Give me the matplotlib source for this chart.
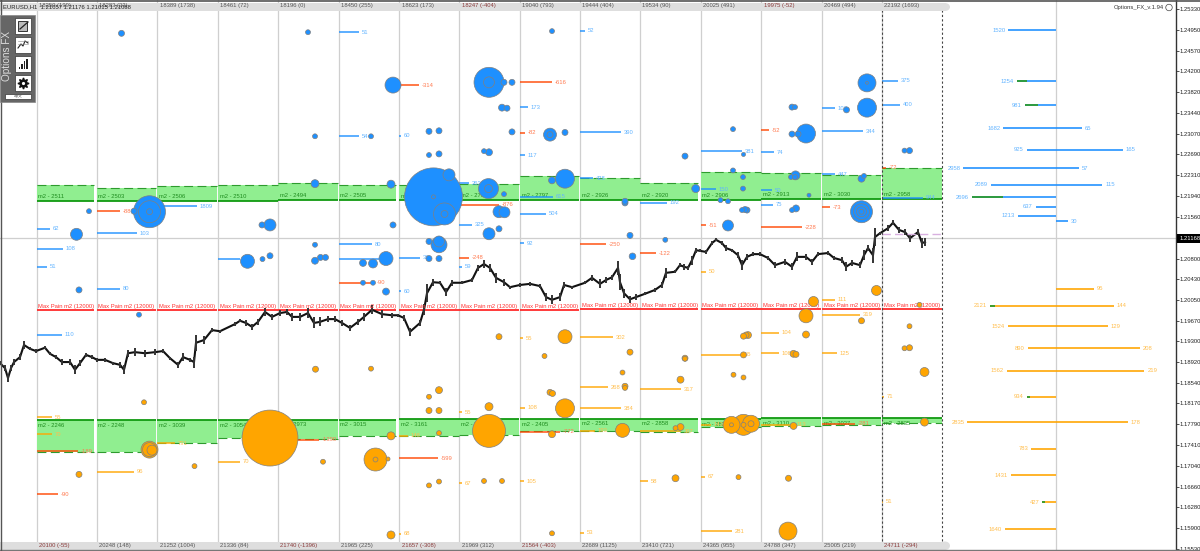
import numpy as np
import matplotlib
matplotlib.use("Agg")
import matplotlib.pyplot as plt
from matplotlib.patches import Rectangle, Ellipse

plt.rcParams['font.family'] = ['Liberation Sans', 'DejaVu Sans']

# ---- data: prices are in ten-thousandths (12495 = 1.2495) ----
col_start = [36.5, 96.5, 157, 217.5, 278, 338.5, 399, 459, 519.5, 580, 640, 700.5, 761, 821.5, 881.5]
col_end = [94, 156, 217, 278, 338, 396, 459, 519, 579, 640, 698, 761, 821, 881, 942]

top_labels = ['18250 (199)', '18283 (33)', '18389 (1738)', '18461 (72)', '18196 (0)', '18450 (255)', '18623 (173)',
              '18247 (-404)', '19040 (793)', '19444 (404)', '19534 (90)', '20025 (491)', '19975 (-52)',
              '20469 (494)', '22192 (1693)']
bottom_labels = ['20100 (-55)', '20248 (148)', '21252 (1004)', '21336 (84)', '21740 (-1396)', '21965 (225)',
                 '21657 (-308)', '21969 (312)', '21564 (-403)', '22689 (1125)', '23410 (721)', '24365 (955)',
                 '24788 (347)', '25005 (219)', '24711 (-294)']

upper_top = [12213, 12208, 12211, 12214, 12217, 12214, 12214, 12216, 12229, 12226, 12218, 12238, 12235, 12232, 12244]
upper_bot = [12184.5, 12184.5, 12184.5, 12184.5, 12186.3, 12186.3, 12185.4, 12186.3, 12186.3, 12186.3, 12186.3,
             12187.2, 12188.1, 12188.1, 12189]
upper_m2 = [2511, 2503, 2506, 2510, 2494, 2505, 2732, 2704, 2797, 2926, 2920, 2906, 2913, 3030, 2958]
lower_top = [11786, 11786, 11786, 11786, 11787, 11787, 11788, 11788, 11788, 11789, 11789, 11788, 11790, 11790, 11790]
lower_bot = [11729, 11728, 11745, 11754, 11752, 11757, 11758, 11759, 11767, 11767, 11765, 11774, 11776, 11778, 11782]
lower_m2 = [2246, 2248, 3039, 3054, 2973, 3015, 3161, 2788, 2405, 2561, 2858, 2820, 3110, 3027, 2835]
max_pain = [11986, 11986, 11986, 11986, 11987, 11987, 11987, 11987, 11987, 11988, 11988, 11989, 11989, 11989, 11989]

blue_col = [0, 0, 0, 0, 1, 1, 2, 3, 5, 5, 5, 5, 6, 6, 6, 7, 7, 7, 8, 8, 8, 8, 8, 9, 9, 9, 10, 11, 11, 12, 12, 12,
            13, 13, 13, 14, 14, 14]
blue_price = [12134, 12098, 12065, 11942, 12126, 12025, 12175, 12079, 12491, 12302, 12106, 12080, 12303, 12081, 12021,
              12217, 12141, 12065, 12355, 12268, 12192, 12161, 12108, 12494, 12309, 12226, 12181, 12275, 12206,
              12273, 12204, 12178, 12353, 12311, 12233, 12403, 12359, 12190]
blue_value = [62, 108, 51, 110, 103, 80, 1809, 78, 51, 54, 80, 146, 60, 38, 60, 263, 325, 59, 173, 117, 615, 504, 92,
              52, 390, 428, 192, 381, 150, 74, 50, 75, 107, 344, 447, 375, 400, 944]
blue_len = [13, 26, 10, 25, 40, 23, 40, 22, 20, 20, 33, 40, 2, 21, 2, 10, 13, 3, 8, 5, 33, 26, 4, 5, 41, 13, 27, 41,
            15, 13, 11, 12, 13, 41, 13, 16, 18, 41]

red_col = [1, 5, 6, 7, 7, 8, 8, 9, 10, 11, 12, 12, 13, 14, 0, 0, 4, 6, 8, 13]
red_price = [12166, 12036, 12395, 12178, 12081, 12400, 12308, 12106, 12090, 12140, 12313, 12137, 12173, 12245, 11730,
             11652, 11751, 11717, 11765, 11780]
red_value = [-88, -90, -314, -876, -248, -616, -82, -250, -122, -51, -52, -228, -73, -72, -189, -90, -1390, -599,
             -772, -281]
red_len = [23, 35, 20, 40, 10, 32, 5, 26, 16, 5, 8, 41, 8, 4, 41, 21, 41, 39, 40, 33]

orange_col = [0, 0, 1, 2, 3, 6, 6, 7, 7, 8, 8, 8, 9, 9, 9, 9, 9, 10, 10, 10, 11, 11, 11, 11, 11, 12, 12, 12, 13, 13,
              13, 14, 14]
orange_price = [11792, 11761, 11693, 11745, 11711, 11758, 11580, 11801, 11672, 11935, 11809, 11676, 11937, 11846, 11808,
                11767, 11582, 11843, 11766, 11676, 11905, 11778, 11684, 11585, 12056, 11945, 11908, 11778, 12005,
                11978, 11908, 11829, 11638]
orange_value = [55, 70, 96, 791, 70, 146, 68, 55, 67, 55, 108, 105, 302, 268, 384, 193, 53, 317, 397, 58, 55, 143,
                67, 281, 50, 104, 108, 113, 111, 319, 125, 71, 51]
orange_len = [15, 15, 37, 18, 22, 9, 2, 3, 3, 3, 5, 4, 33, 28, 41, 15, 4, 41, 41, 8, 41, 10, 4, 31, 5, 18, 18, 33, 13,
              38, 15, 2, 1]

blue_bx = [121.5, 308, 315, 371, 315, 391, 89, 76.5, 149.5, 149.5, 149.5, 134, 270, 262, 393, 393, 315, 247.5, 262.5, 270,
           315, 320.5, 325.5, 386, 373, 363, 79, 139, 386, 363, 373, 489, 489, 504, 512, 502, 507, 429, 439, 512, 429,
           439, 484, 489, 449, 433.5, 433.5, 444.5, 444.5, 488.5, 488.5, 504, 499, 504.5, 489, 499, 439, 439, 429, 429, 439,
           552, 550, 550, 565, 552, 565, 625, 625, 630, 632.5, 665.3, 685, 695.7, 733, 743.5, 733, 743, 743, 720.5, 728,
           745, 747, 742, 728, 792, 795, 792, 798, 806, 795, 791, 795.5, 792, 796, 809, 846.5, 867, 867, 867,
           861.5, 864, 861.5, 861.5, 861.5, 861.5, 904.5, 909.5]
blue_by = [12489, 12491, 12302, 12302, 12216, 12215, 12166, 12124, 12165, 12165, 12165, 12166, 12141, 12141, 12395, 12141,
           12105, 12075, 12079, 12085, 12076, 12082, 12082, 12080, 12071, 12072, 12023, 11978, 12020, 12036, 12036,
           12400, 12400, 12400, 12400, 12354, 12353, 12311, 12312, 12310, 12268, 12270, 12275, 12273, 12232, 12192,
           12192, 12161, 12161, 12207, 12207, 12197, 12165, 12164, 12125, 12134, 12111, 12105, 12111, 12080, 12080,
           12493, 12305, 12305, 12309, 12222, 12225, 12184, 12181, 12122, 12084, 12114, 12266, 12207, 12315, 12269,
           12240, 12228, 12207, 12186, 12184, 12169, 12168, 12168, 12140, 12355, 12355, 12306, 12306, 12307, 12228,
           12228, 12231, 12168, 12171, 12195, 12350, 12399, 12399, 12354, 12225, 12230, 12165, 12165, 12165, 12165,
           12276, 12276]
blue_vol = [9, 6, 6, 6, 16, 16, 6, 36, 256, 121, 9, 9, 36, 9, 64, 9, 6, 49, 6, 9, 12, 9, 9, 49, 20, 12, 9, 6, 12, 6, 6,
            225, 30, 9, 9, 12, 9, 9, 9, 9, 6, 9, 6, 12, 36, 841, 4, 121, 12, 100, 16, 6, 36, 30, 36, 9, 30, 64, 9, 9, 9,
            6, 42, 9, 9, 12, 90, 9, 9, 9, 11, 6, 9, 16, 6, 4, 6, 6, 6, 6, 6, 9, 9, 6, 30, 9, 6, 9, 9, 90, 6, 6, 20, 6,
            12, 4, 9, 81, 2, 90, 12, 6, 121, 64, 25, 6, 6, 9]

orange_bx = [144, 315.5, 371, 79, 149.5, 149.5, 152, 194.5, 270, 323, 375.5, 375.5, 388, 391, 391, 439, 429, 429, 439, 439, 429,
             439, 499, 489, 489, 484, 502, 565, 544.5, 550, 552.5, 565, 552, 552, 630, 622.5, 625, 625, 622.5, 685, 685,
             680.5, 675.5, 680.5, 675.5, 743.5, 746, 748, 743.5, 733.5, 743.5, 731.5, 731.5, 743.5, 743.5, 751, 751, 738.5,
             793.5, 796, 793.5, 788.5, 788, 806, 813.5, 806, 861.5, 876.5, 909.5, 904.5, 909.5, 919.5, 924.5, 924.5]
orange_by = [11819, 11879, 11880, 11688, 11733, 11733, 11732, 11703, 11754, 11711, 11715, 11715, 11716, 11758, 11578, 11841,
             11829, 11804, 11804, 11763, 11668, 11675, 11938, 11811, 11767, 11676, 11676, 11938, 11903, 11837, 11835,
             11808, 11761, 11581, 11910, 11873, 11848, 11845, 11768, 11899, 11898, 11860, 11772, 11774, 11681, 11939,
             11941, 11941, 11905, 11869, 11864, 11778, 11778, 11778, 11778, 11780, 11780, 11683, 11907, 11906, 11776,
             11681, 11585, 11976, 12002, 11942, 11967, 12022, 11957, 11917, 11918, 11996, 11874, 11783]
orange_vol = [6, 9, 6, 9, 72, 49, 25, 6, 784, 6, 132, 6, 4, 16, 16, 12, 6, 9, 9, 6, 6, 6, 9, 16, 272, 6, 6, 49, 6, 9, 9, 90,
              12, 6, 9, 6, 9, 6, 49, 9, 6, 12, 6, 12, 12, 9, 9, 12, 9, 6, 6, 72, 4, 110, 6, 72, 9, 6, 12, 9, 12, 9, 81, 49,
              25, 12, 9, 25, 6, 6, 9, 6, 20, 16]

bar_x = [0, 5, 8, 11, 14, 20, 24, 30, 36, 45,
         50, 56, 62, 70, 75, 80, 86, 92, 97, 105,
         113, 120, 124, 128, 135, 145, 155, 163, 170, 178,
         183, 190, 194, 196, 204, 212, 220, 235, 240, 246,
         252, 258, 265, 272, 280, 287, 292, 300, 308, 314,
         320, 328, 335, 342, 350, 358, 364, 372, 382, 392,
         398, 404, 410, 420, 424, 427, 433, 440, 446, 452,
         462, 472, 478, 484, 490, 496, 504, 510, 520, 530,
         540, 546, 552, 560, 564, 572, 585, 592, 600, 606,
         612, 618, 620, 624, 630, 636, 645, 655, 662, 666,
         675, 680, 684, 688, 692, 696, 700, 706, 712, 716,
         722, 726, 732, 738, 742, 747, 753, 760, 768, 775,
         785, 792, 797, 806, 812, 818, 828, 834, 842, 846,
         852, 860, 864, 868, 873, 875, 880, 888, 893, 899,
         905, 910, 918, 922, 925]
bar_close = [11890, 11881, 11863, 11881, 11892, 11901, 11923, 11916, 11912, 11918,
             11907, 11901, 11892, 11892, 11878, 11890, 11905, 11901, 11896, 11896,
             11890, 11887, 11878, 11908, 11910, 11908, 11910, 11912, 11899, 11887,
             11901, 11896, 11892, 11927, 11932, 11950, 11948, 11961, 11967, 11963,
             11956, 11965, 11983, 11974, 11981, 11983, 11974, 11974, 11981, 11963,
             11965, 11970, 11970, 11963, 11954, 11965, 11974, 11987, 11979, 11977,
             11977, 11972, 11947, 11963, 11987, 12017, 12037, 12036, 12019, 12036,
             12036, 12041, 12063, 12070, 12063, 12045, 12037, 12028, 12032, 12034,
             12030, 12010, 12005, 12010, 12032, 12028, 12036, 12045, 12034, 12041,
             12046, 12063, 12037, 12017, 12006, 12010, 12016, 12023, 12032, 12054,
             12056, 12068, 12065, 12063, 12077, 12095, 12094, 12092, 12108, 12114,
             12108, 12099, 12095, 12086, 12068, 12083, 12088, 12088, 12081, 12068,
             12074, 12065, 12083, 12083, 12074, 12088, 12090, 12081, 12077, 12065,
             12072, 12068, 12086, 12099, 12086, 12119, 12126, 12135, 12145, 12132,
             12128, 12117, 12128, 12108, 12110]
bar_range = [4, 5, 7, 5, 5, 6, 7, 3, 3, 3,
             3, 3, 5, 6, 8, 6, 3, 3, 3, 3,
             3, 5, 8, 6, 7, 6, 5, 3, 3, 5,
             7, 3, 10, 15, 7, 3, 3, 3, 3, 5,
             6, 5, 7, 6, 5, 5, 7, 8, 9, 10,
             8, 6, 5, 5, 6, 6, 8, 8, 7, 5,
             3, 5, 7, 6, 10, 16, 6, 3, 7, 5,
             3, 3, 6, 7, 7, 9, 6, 3, 3, 3,
             3, 7, 8, 8, 6, 3, 3, 5, 8, 6,
             5, 12, 15, 8, 6, 6, 3, 3, 6, 9,
             3, 3, 5, 3, 8, 5, 3, 3, 3, 3,
             3, 6, 3, 5, 9, 6, 3, 3, 3, 5,
             5, 6, 8, 6, 6, 3, 3, 3, 5, 8,
             6, 6, 9, 6, 14, 16, 3, 5, 5, 6,
             5, 7, 6, 9, 7]

profile_blue_price = [12495, 12402, 12358, 12317, 12278, 12244, 12214, 12191, 12174, 12158, 12148]
profile_blue_left = [1520, 1254, 981, 1682, 925, 2958, 2089, 2696, 637, 1213, 0]
profile_blue_right = [0, 0, 0, 65, 165, 57, 115, 0, 0, 0, 30]
profile_blue_green = [0, 350, 420, 0, 0, 0, 0, 1000, 0, 0, 0]
profile_orange_price = [12025, 11994, 11957, 11917, 11876, 11829, 11783, 11735, 11686, 11637, 11588]
profile_orange_left = [0, 2121, 1524, 890, 1562, 934, 2835, 783, 1431, 427, 1640]
profile_orange_right = [95, 144, 129, 208, 219, 0, 178, 0, 0, 0, 0]
profile_orange_green = [0, 160, 0, 0, 0, 100, 0, 0, 0, 90, 0]

tick_prices = [1.25330, 1.24950, 1.24570, 1.24200, 1.23820, 1.23440, 1.23070, 1.22690, 1.22310, 1.21940, 1.21560,
               1.20800, 1.20430, 1.20050, 1.19670, 1.19300, 1.18920, 1.18540, 1.18170, 1.17790, 1.17410, 1.17040,
               1.16660, 1.16280, 1.15900, 1.15530]
current_price = 1.21168
purple_level = 12124.5

# ---- styles ----
BLUE, ORANGE, RED = '#1E90FF', '#FFA500', '#FF4500'
BLUE_T, ORANGE_T, RED_T = '#62B4FF', '#FFBE4D', '#FF7A50'
GRID = '#CFCFCF'
FS = 4.2

P = 1e-4
fig = plt.figure(figsize=(12, 5.51), dpi=100, facecolor='white')
ax = fig.add_axes([0, 0, 1176 / 1200, 1])
ax.set_xlim(0, 1176)
ax.set_ylim((12549.5 - 1.816 * 551) * P, 12549.5 * P)
for s in ('left', 'top', 'bottom'):
    ax.spines[s].set_visible(False)
ax.spines['right'].set_linewidth(1.0)
ax.spines['right'].set_color('#333333')
ax.yaxis.tick_right()
ax.set_yticks(tick_prices)
ax.set_yticklabels([f'{t:.5f}' for t in tick_prices], fontsize=FS, color='#222222')
ax.tick_params(axis='y', length=2, width=0.6, pad=0.5, color='#333333')
ax.set_xticks([])

# grid
for x in col_start:
    ax.axvline(x, color=GRID, lw=0.9, zorder=1)
ax.axvline(1055.7, color=GRID, lw=0.9, zorder=1)
ax.axhline(current_price, color=GRID, lw=0.9, zorder=1)

# option bands
for i, (a, b) in enumerate(zip(col_start, col_end)):
    ax.fill_between([a, b], upper_bot[i] * P, upper_top[i] * P, color='#90EE90', lw=0, zorder=2)
    ax.plot([a, b], [upper_bot[i] * P] * 2, color='#119A11', lw=1.3, zorder=3, solid_capstyle='butt')
    ax.plot([a, b], [upper_top[i] * P] * 2, color='#2E9B2E', lw=0.8, ls=(0, (8, 4)), zorder=3)
    ax.text(a + 2, (upper_bot[i] + 8) * P, f'm2 - {upper_m2[i]}', fontsize=FS, color='#1E8C1E', va='center', zorder=3)
    ax.fill_between([a, b], lower_bot[i] * P, lower_top[i] * P, color='#90EE90', lw=0, zorder=2)
    ax.plot([a, b], [lower_top[i] * P] * 2, color='#119A11', lw=1.3, zorder=3, solid_capstyle='butt')
    ax.plot([a, b], [lower_bot[i] * P] * 2, color='#2E9B2E', lw=0.8, ls=(0, (8, 4)), zorder=3)
    ax.text(a + 2, (lower_top[i] - 9) * P, f'm2 - {lower_m2[i]}', fontsize=FS, color='#1E8C1E', va='center', zorder=3)
    ax.plot([a, b], [max_pain[i] * P] * 2, color='#FF2B2B', lw=1.3, zorder=3, solid_capstyle='butt')
    ax.text(a + 2, (max_pain[i] + 6.5) * P, 'Max Pain m2 (12000)', fontsize=FS, color='#FF3030', va='center', zorder=6)


def level_lines(cols, prices, values, lengths, color, tcolor):
    for c, p, v, l in zip(cols, prices, values, lengths):
        x0 = col_start[c]
        ax.plot([x0, x0 + l], [p * P] * 2, color=color, lw=1.2, alpha=0.85, zorder=4, solid_capstyle='butt')
        ax.text(x0 + l + 3, p * P, str(v), fontsize=FS, color=tcolor, va='center', zorder=4)


level_lines(blue_col, blue_price, blue_value, blue_len, BLUE, BLUE_T)
level_lines(orange_col, orange_price, orange_value, orange_len, ORANGE, ORANGE_T)
level_lines(red_col, red_price, red_value, red_len, RED, RED_T)

# right-hand profile
CX = 1055.7
for prices, lefts, rights, greens, color, tcolor in (
        (profile_blue_price, profile_blue_left, profile_blue_right, profile_blue_green, BLUE, BLUE_T),
        (profile_orange_price, profile_orange_left, profile_orange_right, profile_orange_green, ORANGE, ORANGE_T)):
    for p, l, r, g in zip(prices, lefts, rights, greens):
        y = p * P
        if l:
            x0 = CX - l * 0.0312
            ax.plot([x0, CX], [y, y], color=color, lw=1.3, alpha=0.9, zorder=4, solid_capstyle='butt')
            if g:
                ax.plot([x0, x0 + g * 0.0312], [y, y], color='#2E9B2E', lw=1.3, zorder=5, solid_capstyle='butt')
            ax.text(x0 - 3, y, str(l), fontsize=FS, color=tcolor, va='center', ha='right', zorder=4)
        if r:
            x1 = CX + r * 0.405
            ax.plot([CX, x1], [y, y], color=color, lw=1.3, alpha=0.9, zorder=4, solid_capstyle='butt')
            ax.text(x1 + 3, y, str(r), fontsize=FS, color=tcolor, va='center', zorder=4)


def bubbles(xs, ys, vols, color):
    order = np.argsort(vols)[::-1]
    ax.scatter(np.array(xs)[order], np.array(ys)[order] * P, s=np.array(vols)[order] * 2.07, c=color,
               edgecolors='#808080', linewidths=0.5, zorder=7)


bubbles(blue_bx, blue_by, blue_vol, BLUE)
bubbles(orange_bx, orange_by, orange_vol, ORANGE)

# price bars
closes = np.array(bar_close) * P
spread = np.array(bar_range) * P
ax.plot(bar_x, closes, color='#111111', lw=1.5, zorder=5)
ax.vlines(bar_x, closes - spread, closes + spread, color='#333333', lw=1.4, zorder=5)

# session markers
ax.plot([881.5, 942], [purple_level * P] * 2, color='#D8B0E0', lw=1.0, ls=(0, (6, 3)), zorder=5)
for x in (881.5, 942):
    ax.plot([x, x], [(12549.5 - 1.816 * 541) * P, (12549.5 - 1.816 * 3) * P], color='#444444', lw=0.8, ls=(0, (2, 2)),
            zorder=8)

# ---- chart furniture in pixel space ----
c = fig.add_axes([0, 0, 1, 1], facecolor='none')
c.set_xlim(0, 1200)
c.set_ylim(551, 0)
c.axis('off')
for y0, h in ((3, 8), (541.5, 8.5)):
    c.add_patch(Rectangle((0, y0), 945, h, fc='#DEDEDE', ec='none', zorder=1))
    c.add_patch(Ellipse((945, y0 + h / 2), 10, h, fc='#DEDEDE', ec='none', zorder=1))
for x, t in zip(col_start, top_labels):
    c.text(x + 2.5, 5.8, t, fontsize=FS, color='#8A3A3A' if '-' in t else '#555555', va='center', zorder=2)
for x, t in zip(col_start, bottom_labels):
    c.text(x + 2.5, 546, t, fontsize=FS, color='#8A3A3A' if '-' in t else '#555555', va='center', zorder=2)
c.text(3, 6.5, 'EURUSD,H1  1.21057 1.21176 1.21015 1.21088', fontsize=FS, color='#222222', va='center', zorder=3)
c.text(1164, 7.5, 'Options_FX_v.1.94', fontsize=FS, color='#333333', va='center', ha='right', zorder=3)
c.add_patch(Ellipse((1169, 7.5), 6.5, 6.5, fc='white', ec='#444444', lw=0.5, zorder=3))
c.plot([0, 1200], [1.2, 1.2], color='#555555', lw=1.2, zorder=3)
c.plot([0, 1200], [550.3, 550.3], color='#777777', lw=1.0, zorder=3)
c.plot([0.5, 0.5], [0, 551], color='#555555', lw=1.0, zorder=3)
c.add_patch(Rectangle((1177, 234), 23, 8.5, fc='black', ec='none', zorder=3))
c.text(1180, 238.3, f'{current_price:.5f}', fontsize=FS, color='white', va='center', zorder=4)

# tool panel
c.add_patch(Rectangle((0, 15), 34.5, 87, fc='#666666', ec='#888888', lw=0.5, zorder=5))
c.text(7, 56, 'Options FX', fontsize=7.2, rotation=90, color='#DDDDDD', ha='center', va='center', zorder=6)
for y0 in (18, 37, 56, 75):
    c.add_patch(Rectangle((15, y0), 15.5, 15.5, fc='white', ec='#333333', lw=0.5, zorder=6))
c.add_patch(Rectangle((18, 21), 9, 9.5, fc='#BBBBBB', ec='#333333', lw=0.7, zorder=7))
c.plot([20, 28], [29, 22], color='#222222', lw=0.9, zorder=8)
c.plot([18, 21, 23, 25, 28], [48, 44, 46, 41, 43], color='#222222', lw=0.8, zorder=7)
c.plot([18, 28], [44, 44], color='#888888', lw=0.4, zorder=7)
c.plot([18, 28], [41, 41], color='#888888', lw=0.4, zorder=7)
for x, top in zip((18.5, 21, 23.5, 26), (67, 64, 61, 59)):
    c.add_patch(Rectangle((x, top), 1.8, 69 - top, fc='#222222', ec='none', zorder=7))
c.plot([22.7], [82.7], marker=(8, 1, 0), ms=8, color='#111111', zorder=7)
c.plot([22.7], [82.7], marker='o', ms=2.3, color='white', mew=0, zorder=8)
c.add_patch(Rectangle((4.5, 94), 26.5, 4.5, fc='white', ec='#333333', lw=0.5, zorder=6))
c.text(17.7, 96.2, '<<<', fontsize=3.6, color='#333333', ha='center', va='center', zorder=7)

fig.savefig('out.png', dpi=100, facecolor='white')
